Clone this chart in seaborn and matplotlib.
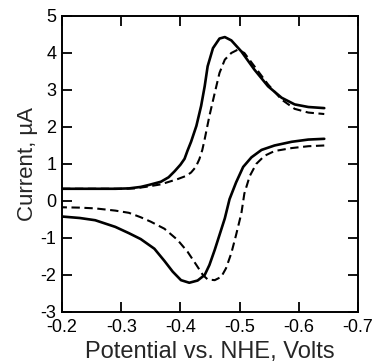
import pandas as pd
import matplotlib
matplotlib.use("Agg")
import matplotlib.pyplot as plt
import seaborn as sns

# Solid trace: forward sweep (to negative) and return sweep; potential in V, current in uA
solid_fwd_x = [-0.200, -0.250, -0.290, -0.313, -0.333, -0.346, -0.367, -0.380, -0.390, -0.400,
               -0.407, -0.412, -0.418, -0.427, -0.435, -0.441, -0.446, -0.455, -0.466, -0.475,
               -0.486, -0.503, -0.525, -0.548, -0.571, -0.593, -0.616, -0.643]
solid_fwd_y = [0.33, 0.33, 0.33, 0.34, 0.38, 0.43, 0.52, 0.64, 0.80, 0.98,
               1.14, 1.36, 1.60, 2.03, 2.57, 3.10, 3.64, 4.13, 4.39, 4.43,
               4.34, 4.04, 3.55, 3.10, 2.79, 2.61, 2.54, 2.51]
solid_ret_x = [-0.643, -0.616, -0.588, -0.559, -0.537, -0.520, -0.506, -0.494, -0.483, -0.475,
               -0.466, -0.458, -0.449, -0.441, -0.429, -0.415, -0.401, -0.387, -0.373, -0.356,
               -0.333, -0.313, -0.290, -0.256, -0.230, -0.200]
solid_ret_y = [1.68, 1.66, 1.60, 1.50, 1.38, 1.18, 0.92, 0.50, 0.05, -0.47,
               -0.92, -1.32, -1.73, -2.00, -2.15, -2.21, -2.14, -1.91, -1.62, -1.29,
               -1.03, -0.87, -0.70, -0.52, -0.46, -0.42]

# Dashed trace
dash_fwd_x = [-0.200, -0.260, -0.300, -0.323, -0.345, -0.367, -0.395, -0.410, -0.418, -0.426,
              -0.432, -0.437, -0.441, -0.449, -0.458, -0.466, -0.475, -0.486, -0.497, -0.508,
              -0.525, -0.548, -0.571, -0.593, -0.616, -0.643]
dash_fwd_y = [0.33, 0.33, 0.33, 0.34, 0.39, 0.45, 0.59, 0.68, 0.77, 0.92,
              1.13, 1.38, 1.67, 2.30, 2.92, 3.46, 3.82, 4.00, 4.09, 4.00,
              3.64, 3.15, 2.74, 2.49, 2.39, 2.35]
dash_ret_x = [-0.643, -0.616, -0.588, -0.559, -0.542, -0.528, -0.517, -0.508, -0.503, -0.494,
              -0.486, -0.477, -0.469, -0.458, -0.446, -0.438, -0.427, -0.412, -0.395, -0.373,
              -0.350, -0.333, -0.313, -0.290, -0.256, -0.230, -0.200]
dash_ret_y = [1.50, 1.48, 1.43, 1.35, 1.22, 1.00, 0.67, 0.20, -0.33, -0.92,
              -1.41, -1.82, -2.05, -2.14, -2.12, -2.00, -1.73, -1.37, -1.05, -0.75,
              -0.56, -0.44, -0.32, -0.26, -0.20, -0.18, -0.17]

x_ticks = [-0.2, -0.3, -0.4, -0.5, -0.6, -0.7]
y_ticks = [-3, -2, -1, 0, 1, 2, 3, 4, 5]

sns.set_style("ticks")
plt.rcParams['font.family'] = ['Liberation Sans', 'DejaVu Sans']
plt.rcParams['axes.unicode_minus'] = False

def branch_df(x, y, name):
    return pd.DataFrame({'E': x, 'I': y, 'branch': name})

solid = pd.concat([branch_df(solid_fwd_x, solid_fwd_y, 'fwd'),
                   branch_df(solid_ret_x, solid_ret_y, 'ret')])
dashed = pd.concat([branch_df(dash_fwd_x, dash_fwd_y, 'fwd'),
                    branch_df(dash_ret_x, dash_ret_y, 'ret')])

fig = plt.figure(figsize=(3.72, 3.64), dpi=100)
ax = fig.add_axes([0.1667, 0.1429, 0.7957, 0.8132])

sns.lineplot(data=solid, x='E', y='I', units='branch', sort=False, estimator=None,
             color='black', lw=1.9, ax=ax)
sns.lineplot(data=dashed, x='E', y='I', units='branch', sort=False, estimator=None,
             color='black', lw=1.5, linestyle=(0, (4, 2.2)), ax=ax)

ax.set_xlim(-0.2, -0.7)
ax.set_ylim(-3, 5)
ax.set_xticks(x_ticks)
ax.set_xticklabels([f"{t:.1f}" for t in x_ticks])
ax.set_yticks(y_ticks)
ax.tick_params(direction='in', length=7, width=1.3, labelsize=13, colors='black',
               top=True, right=True)
ax.tick_params(axis='x', pad=5)
ax.tick_params(axis='y', pad=4)
for s in ax.spines.values():
    s.set_linewidth(1.4)
    s.set_color('black')

ax.set_xlabel('Potential vs. NHE, Volts', fontsize=17, labelpad=4)
ax.set_ylabel('Current, µA', fontsize=16, labelpad=2)

plt.savefig('out.png', dpi=100)
